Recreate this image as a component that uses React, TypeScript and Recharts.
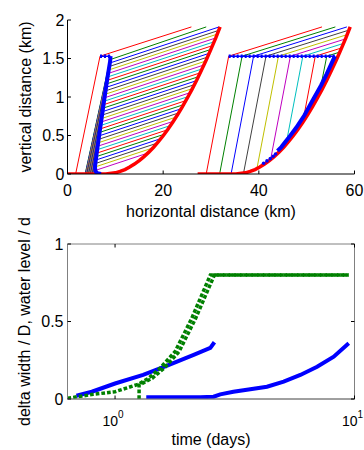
import React from 'react';
import { LineChart, Line, XAxis, YAxis, ReferenceArea } from 'recharts';

// ---------- top panel ----------
const distTicks = [0, 20, 40, 60];
const heightTicks = [0, 0.5, 1, 1.5, 2];

// thick red bed profiles
const redLeftX = [0, 8, 10, 11, 12, 13, 14, 15, 16, 17, 18, 19, 20, 21, 22, 23, 24, 25, 26, 27, 28, 29, 30, 31, 31.9];
const redLeftY = [0, 0, 0.015, 0.033, 0.058, 0.09, 0.129, 0.174, 0.226, 0.284, 0.348, 0.42, 0.497, 0.581, 0.672, 0.769, 0.872, 0.981, 1.096, 1.218, 1.347, 1.48, 1.622, 1.767, 1.91];
const redRightX = [27.2, 35.2, 37.2, 38.2, 39.2, 40.2, 41.2, 42.2, 43.2, 44.2, 45.2, 46.2, 47.2, 48.2, 49.2, 50.2, 51.2, 52.2, 53.2, 54.2, 55.2, 56.2, 57.2, 58.2, 59.1];
const redRightY = [0, 0, 0.015, 0.033, 0.058, 0.09, 0.129, 0.174, 0.226, 0.284, 0.348, 0.42, 0.497, 0.581, 0.672, 0.769, 0.872, 0.981, 1.096, 1.218, 1.347, 1.48, 1.622, 1.767, 1.91];

// left group of thin lines: foot on the ground, bend, end
const leftBaseX = [1.7, 3.69, 3.74, 3.8, 3.85, 3.9, 3.96, 4.01, 4.07, 4.12, 4.17, 4.23, 4.29, 4.33, 4.39, 4.44, 4.5, 4.55, 4.6, 4.66, 4.72, 4.76, 4.82, 4.87, 4.93, 4.98, 5.03, 5.09, 5.15, 5.2, 5.25, 5.31, 5.37, 5.59];
const leftBendX = [6.8, 8.89, 8.78, 8.68, 8.57, 8.47, 8.37, 8.26, 8.16, 8.06, 7.95, 7.85, 7.75, 7.64, 7.54, 7.43, 7.33, 7.23, 7.12, 7.02, 6.92, 6.81, 6.71, 6.6, 6.5, 6.4, 6.29, 6.19, 6.09, 5.99, 5.88, 5.78, 5.68, 5.75];
const leftBendY = [1.53, 1.485, 1.44, 1.395, 1.35, 1.305, 1.26, 1.215, 1.17, 1.125, 1.08, 1.035, 0.99, 0.945, 0.9, 0.855, 0.81, 0.765, 0.72, 0.675, 0.63, 0.585, 0.54, 0.495, 0.45, 0.405, 0.36, 0.315, 0.27, 0.225, 0.18, 0.135, 0.09, 0.045];
const leftEndX = [25.9, 29.0, 31.7, 31.65, 31.33, 31.0, 30.65, 30.3, 29.98, 29.61, 29.27, 28.9, 28.53, 28.14, 27.75, 27.35, 26.96, 26.52, 26.1, 25.67, 25.2, 24.75, 24.26, 23.77, 23.24, 22.7, 22.11, 21.51, 20.91, 20.21, 19.5, 18.72, 17.82, 16.85];
const leftEndY = [1.91, 1.91, 1.91, 1.866, 1.817, 1.767, 1.717, 1.667, 1.618, 1.567, 1.518, 1.467, 1.416, 1.365, 1.314, 1.263, 1.212, 1.16, 1.109, 1.057, 1.005, 0.953, 0.9, 0.847, 0.793, 0.739, 0.684, 0.629, 0.574, 0.516, 0.459, 0.4, 0.338, 0.273];

// right group of thin lines
const rightBaseX = [29.0, 31.8, 34.2, 36.8, 39.6, 42.5, 45.85, 49.45, 53.0];
const rightBaseY = [0, 0, 0, 0.01, 0.07, 0.2, 0.44, 0.76, 1.15];
const rightTopX = [33.7, 36.5, 38.9, 41.5, 44.1, 46.6, 49.2, 51.8, 54.2];
const rightTopY = [1.53, 1.53, 1.53, 1.53, 1.53, 1.53, 1.53, 1.53, 1.53];
const rightEndX = [53.2, 56.0, 58.4, 58.9, 58.5, 58.1, 57.7, 57.3, 56.92];
const rightEndY = [1.91, 1.91, 1.91, 1.87, 1.811, 1.754, 1.696, 1.637, 1.583];

// thick blue fronts
const blueLeftTopX = [6.8, 9.0];
const blueLeftTopY = [1.53, 1.53];
const blueLeftX = [9.0, 8.9, 8.4, 7.6, 6.8, 6.1, 5.75, 5.8, 6.2, 7.0];
const blueLeftY = [1.53, 1.46, 1.27, 0.93, 0.58, 0.27, 0.1, 0.04, 0.012, 0.0];
const blueRightTopX = [33.7, 55.9];
const blueRightTopY = [1.53, 1.53];
const blueRightX = [55.9, 54.2, 53.0, 51.2, 49.5, 47.8, 46.1, 44.7, 43.9];
const blueRightY = [1.53, 1.3, 1.15, 0.95, 0.76, 0.6, 0.46, 0.35, 0.3];
const blueDotsX = [41.0, 41.7, 42.4, 43.0, 43.5];
const blueDotsY = [0.14, 0.17, 0.2, 0.23, 0.26];

// ---------- bottom panel ----------
const timeTicks = [1, 10];
const ratioTicks = [0, 0.5, 1];

const width1T = [0.69, 0.8, 1.0, 1.31, 1.65, 2.13, 2.5, 2.6];
const width1V = [0.021, 0.047, 0.1, 0.155, 0.215, 0.284, 0.33, 0.366];
const width2T = [1.35, 2.27, 2.58, 2.75, 3.12, 3.67, 4.31, 5.06, 5.94, 6.98, 8.19, 9.46];
const width2V = [0.011, 0.011, 0.015, 0.03, 0.047, 0.063, 0.079, 0.112, 0.155, 0.208, 0.273, 0.359];
const levelAT = [0.633, 0.81, 1.0, 1.25, 1.38, 1.54, 1.78, 2.09, 2.3, 2.5, 9.46];
const levelAV = [0.005, 0.03, 0.047, 0.095, 0.134, 0.198, 0.305, 0.52, 0.67, 0.8, 0.8];
const levelBT = [1.26, 1.26, 1.43, 1.6, 1.85, 2.17, 2.39, 2.6, 9.46];
const levelBV = [0.0, 0.09, 0.134, 0.198, 0.305, 0.52, 0.67, 0.8, 0.8];

const COLORS = ['#ff0000', '#008000', '#0000ff', '#404040', '#bfbf00', '#bf00bf', '#00bfbf'];
const FONT = '"Liberation Sans", Arial, Helvetica, sans-serif';
const PLOT_W = 287;
const PLOT_H = 155;

const pts = (xs: number[], ys: number[]) => xs.map((x, i) => ({ x, y: ys[i] }));

const leftLines = leftBaseX.map((bx, i) => [
  { x: bx, y: 0 },
  { x: leftBendX[i], y: leftBendY[i] },
  { x: leftEndX[i], y: leftEndY[i] },
]);
const rightLines = rightBaseX.map((bx, i) => [
  { x: bx, y: rightBaseY[i] },
  { x: rightTopX[i], y: rightTopY[i] },
  { x: rightEndX[i], y: rightEndY[i] },
]);

function TopXTick({ x, y, payload }: any) {
  return (
    <g>
      <line x1={x} x2={x} y1={y} y2={y - 3.5} stroke="#000" />
      <text x={x} y={y + 22} textAnchor="middle" fontSize={16} fontFamily={FONT} fill="#000">
        {payload.value}
      </text>
    </g>
  );
}

function TopYTick({ x, y, payload }: any) {
  return (
    <g>
      <line x1={x} x2={x + 3.5} y1={y} y2={y} stroke="#000" />
      <text x={x - 3} y={y + 5.7} textAnchor="end" fontSize={16} fontFamily={FONT} fill="#000">
        {payload.value}
      </text>
    </g>
  );
}

function LogXTick({ x, y, payload }: any) {
  const exp = Math.round(Math.log10(payload.value));
  return (
    <g>
      <line x1={x} x2={x} y1={y} y2={y - 3.5} stroke="#000" />
      <line x1={x} x2={x} y1={y - PLOT_H} y2={y - PLOT_H + 3.5} stroke="#000" />
      <text x={x - 2} y={y + 27} textAnchor="middle" fontSize={14} fontFamily={FONT} fill="#000">
        <tspan>10</tspan>
        <tspan dy={-8} fontSize={10}>{exp}</tspan>
      </text>
    </g>
  );
}

function BottomYTick({ x, y, payload }: any) {
  return (
    <g>
      <line x1={x} x2={x + 3.5} y1={y} y2={y} stroke="#000" />
      <line x1={x + PLOT_W} x2={x + PLOT_W - 3.5} y1={y} y2={y} stroke="#000" />
      <text x={x - 4} y={y + 5.7} textAnchor="end" fontSize={16} fontFamily={FONT} fill="#000">
        {payload.value}
      </text>
    </g>
  );
}

function AxisTitle({ px, py, text, vertical }: any) {
  return (
    <text
      x={px}
      y={py}
      textAnchor="middle"
      fontSize={16}
      fontFamily={FONT}
      fill="#000"
      transform={vertical ? `rotate(-90 ${px} ${py})` : undefined}
    >
      {text}
    </text>
  );
}

const thin = (data: any[], color: string, key: string) => (
  <Line key={key} data={data} dataKey="y" stroke={color} strokeWidth={1} dot={false} activeDot={false} isAnimationActive={false} />
);

export default function App() {
  return (
    <div style={{ position: 'absolute', left: 0, top: 0, width: 364, height: 450, background: '#fff', overflow: 'hidden' }}>
      <div style={{ position: 'absolute', left: 0, top: 0 }}>
        <LineChart width={364} height={225} margin={{ top: 20, right: 9.5, bottom: 0, left: 0 }}>
          <XAxis
            type="number"
            dataKey="x"
            domain={[0, 60]}
            ticks={distTicks}
            interval={0}
            allowDataOverflow
            height={51}
            tickSize={0}
            tickMargin={0}
            tickLine={false}
            axisLine={{ stroke: '#000' }}
            tick={<TopXTick />}
            label={<AxisTitle px={211} py={217} text="horizontal distance (km)" />}
          />
          <YAxis
            type="number"
            domain={[0, 2]}
            ticks={heightTicks}
            interval={0}
            allowDataOverflow
            width={67.5}
            tickSize={0}
            tickMargin={0}
            tickLine={false}
            axisLine={{ stroke: '#000' }}
            tick={<TopYTick />}
            label={<AxisTitle px={31} py={97} text="vertical distance (km)" vertical />}
          />
          {leftLines.map((d, i) => thin(d, COLORS[i % COLORS.length], `l${i}`))}
          {rightLines.map((d, i) => thin(d, COLORS[i % COLORS.length], `r${i}`))}
          <Line data={pts(redLeftX, redLeftY)} dataKey="y" stroke="#ff0000" strokeWidth={3.5} dot={false} activeDot={false} isAnimationActive={false} />
          <Line data={pts(redRightX, redRightY)} dataKey="y" stroke="#ff0000" strokeWidth={3.5} dot={false} activeDot={false} isAnimationActive={false} />
          <Line data={pts(blueLeftX, blueLeftY)} dataKey="y" stroke="#0000ff" strokeWidth={4} dot={false} activeDot={false} isAnimationActive={false} />
          <Line data={pts(blueRightX, blueRightY)} dataKey="y" stroke="#0000ff" strokeWidth={4} dot={false} activeDot={false} isAnimationActive={false} />
          <Line data={pts(blueLeftTopX, blueLeftTopY)} dataKey="y" stroke="#0000ff" strokeWidth={1.5} dot={false} activeDot={false} isAnimationActive={false} />
          <Line data={pts(blueLeftTopX, blueLeftTopY)} dataKey="y" stroke="#0000ff" strokeWidth={3.5} strokeDasharray="2 2" dot={false} activeDot={false} isAnimationActive={false} />
          <Line data={pts(blueRightTopX, blueRightTopY)} dataKey="y" stroke="#0000ff" strokeWidth={1.5} dot={false} activeDot={false} isAnimationActive={false} />
          <Line data={pts(blueRightTopX, blueRightTopY)} dataKey="y" stroke="#0000ff" strokeWidth={3.5} strokeDasharray="2 2" dot={false} activeDot={false} isAnimationActive={false} />
          <Line data={pts(blueDotsX, blueDotsY)} dataKey="y" stroke="none" dot={{ r: 1.8, fill: '#0000ff', stroke: 'none' }} activeDot={false} isAnimationActive={false} />
        </LineChart>
      </div>
      <div style={{ position: 'absolute', left: 0, top: 190 }}>
        <LineChart width={364} height={260} margin={{ top: 54, right: 9.5, bottom: 0, left: 0 }}>
          <XAxis
            type="number"
            dataKey="x"
            scale="log"
            domain={[0.633, 10]}
            ticks={timeTicks}
            interval={0}
            allowDataOverflow
            height={51}
            tickSize={0}
            tickMargin={0}
            tickLine={false}
            axisLine={{ stroke: '#808080' }}
            tick={<LogXTick />}
            label={<AxisTitle px={211} py={255} text="time (days)" />}
          />
          <YAxis
            type="number"
            domain={[0, 1]}
            ticks={ratioTicks}
            interval={0}
            allowDataOverflow
            width={67.5}
            tickSize={0}
            tickMargin={0}
            tickLine={false}
            axisLine={{ stroke: '#808080' }}
            tick={<BottomYTick />}
            label={<AxisTitle px={30} py={131.5} text="delta width / D, water level / d" vertical />}
          />
          <ReferenceArea x1={0.633} x2={10} y1={0} y2={1} fill="none" stroke="#808080" strokeWidth={1} ifOverflow="visible" />
          <Line data={pts(width1T, width1V)} dataKey="y" stroke="#0000ff" strokeWidth={4} dot={false} activeDot={false} isAnimationActive={false} />
          <Line data={pts(width2T, width2V)} dataKey="y" stroke="#0000ff" strokeWidth={4} dot={false} activeDot={false} isAnimationActive={false} />
          <Line data={pts(levelAT, levelAV)} dataKey="y" stroke="#008000" strokeWidth={3.5} strokeDasharray="3.7 2" dot={false} activeDot={false} isAnimationActive={false} />
          <Line data={pts(levelBT, levelBV)} dataKey="y" stroke="#008000" strokeWidth={3.5} strokeDasharray="3.7 2" dot={false} activeDot={false} isAnimationActive={false} />
        </LineChart>
      </div>
    </div>
  );
}
